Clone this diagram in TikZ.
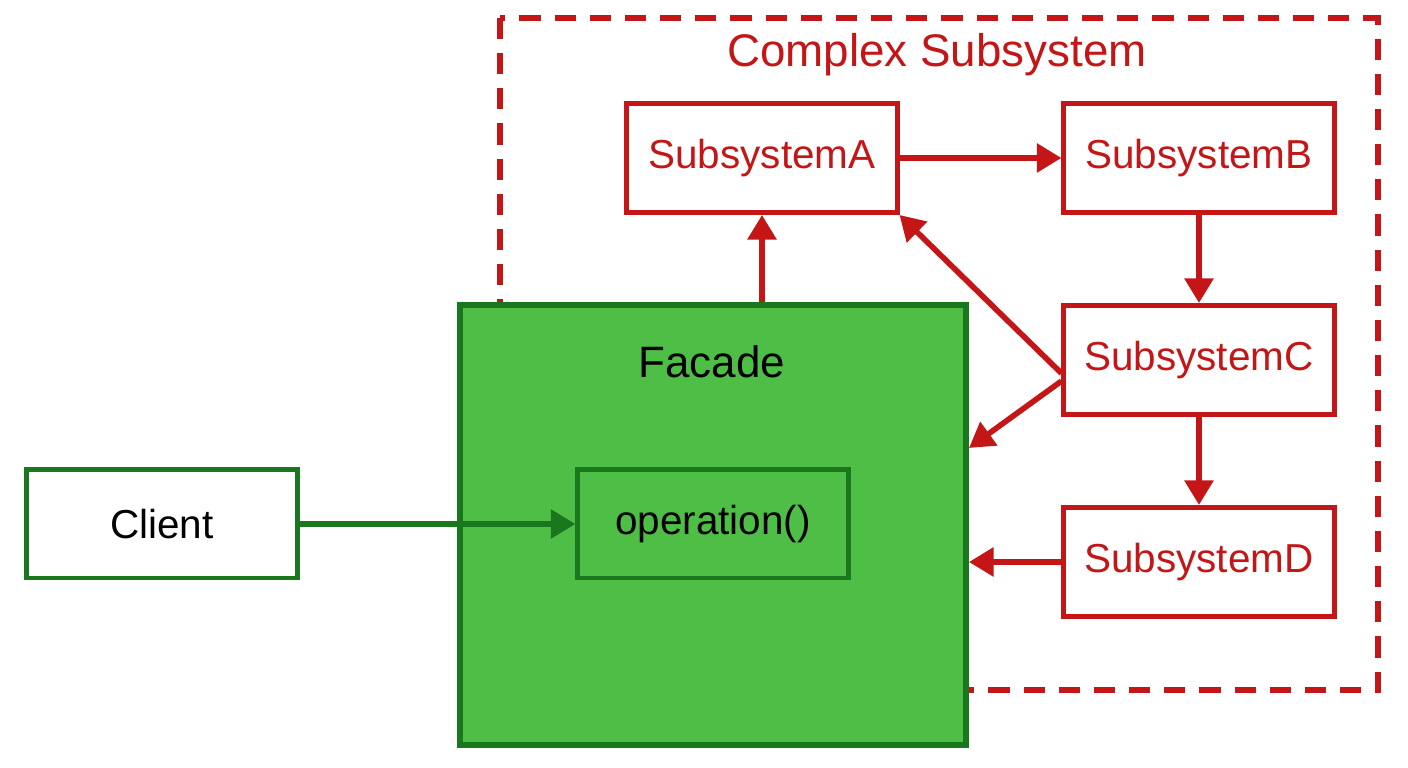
\documentclass[tikz,border=0pt]{standalone}
\usepackage{fontspec}
\setmainfont{Liberation Sans}
\usetikzlibrary{arrows.meta, positioning}
\definecolor{subred}{RGB}{196,22,22}
\definecolor{facgreen}{RGB}{78,190,70}
\definecolor{darkgreen}{RGB}{25,120,30}

\begin{document}
\begin{tikzpicture}[x=0.01cm, y=-0.01cm, >={Triangle[length=7pt, width=8pt]},
  font=\fontsize{11.5}{14}\selectfont,
  sub/.style={draw=subred, line width=1.4pt, text=subred, minimum width=2.7cm, minimum height=1.09cm},
  redarrow/.style={->, draw=subred, line width=1.6pt, color=subred},
  greenbox/.style={draw=darkgreen, line width=1.4pt, minimum width=2.7cm, minimum height=1.08cm}]

\useasboundingbox (0,0) rectangle (1408,768);

% Subsystem frame
\draw[subred, line width=1.6pt, dash pattern=on 6pt off 4pt] (500,18) rectangle (1378,690);
\node (title) [text=subred, font=\fontsize{13}{16}\selectfont] at (937,55) {Complex Subsystem};

% Facade
\node (facade) [draw=darkgreen, fill=facgreen, line width=1.6pt, minimum width=5.06cm, minimum height=4.4cm] at (713,525) {};
\node (factitle) [font=\fontsize{12.5}{15}\selectfont] at (712,362) {Facade};
\node (operation) [greenbox] at (713,524) {operation()};
\node (client) [greenbox, fill=white] at (162,524) {Client};

% Subsystems
\node (subA) [sub] at (762,158) {SubsystemA};
\node (subB) [sub] at (1199,158) {SubsystemB};
\node (subC) [sub] at (1199,360) {SubsystemC};
\node (subD) [sub] at (1199,562) {SubsystemD};

% Arrows
\draw[->, darkgreen, line width=1.6pt] (client) -- (operation);
\draw[redarrow] (facade.north -| subA) -- (subA);
\draw[redarrow] (subA) -- (subB);
\draw[redarrow] (subB) -- (subC);
\draw[redarrow] (subC) -- (subD);
\draw[redarrow] ([yshift=-20pt]subC.north west) -- (subA.south east);
\draw[redarrow] ([yshift=-6pt]subC.west) -- (facade.east |- 0,448);
\draw[redarrow] (subD) -- (facade.east |- subD);

\end{tikzpicture}
\end{document}
